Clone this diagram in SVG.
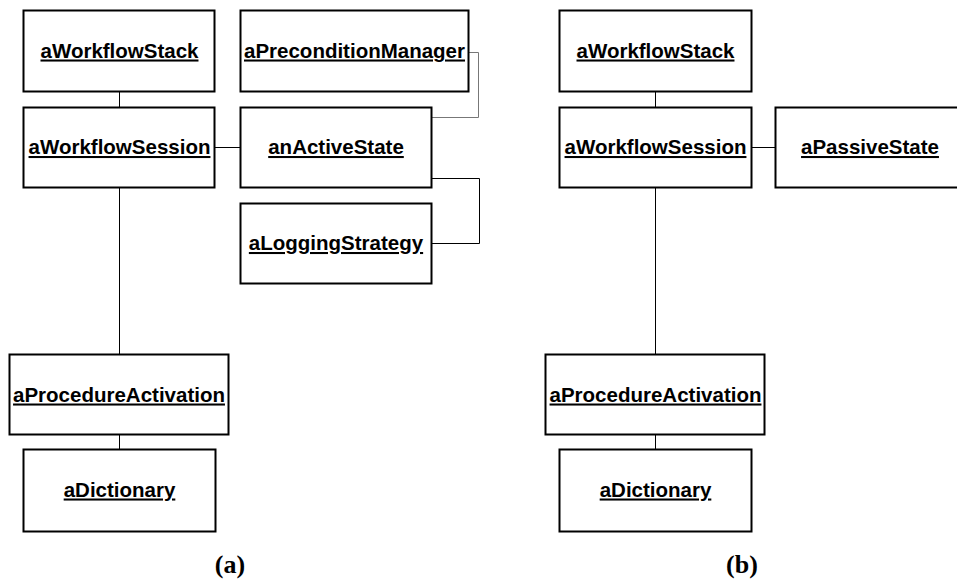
<svg xmlns="http://www.w3.org/2000/svg" width="957" height="580" viewBox="0 0 957 580">
  <style>
    .box { fill: #fff; stroke: #000; stroke-width: 2; }
    .lbl { font-family: "Liberation Sans", Arial, sans-serif; font-weight: bold; font-size: 20.5px; text-anchor: middle; text-decoration: underline; fill: #000; }
    .cap { font-family: "Liberation Serif", "Times New Roman", serif; font-weight: bold; font-size: 26px; text-anchor: middle; fill: #000; }
    .link { fill: none; stroke: #000; stroke-width: 1; }
    .link.grey { stroke: #777; }
  </style>
  <rect width="957" height="580" fill="#fff"/>

  <!-- connectors -->
  <g id="connectors">
    <!-- (a) -->
    <line class="link" x1="119.5" y1="92" x2="119.5" y2="107"/>
    <line class="link" x1="215" y1="147.5" x2="240" y2="147.5"/>
    <polyline class="link grey" points="469,52.5 478.5,52.5 478.5,117.5 432,117.5"/>
    <polyline class="link" points="432,178.5 479.5,178.5 479.5,243.5 432,243.5"/>
    <line class="link" x1="119.5" y1="188" x2="119.5" y2="354"/>
    <line class="link" x1="119.5" y1="435" x2="119.5" y2="449"/>
    <!-- (b) -->
    <line class="link" x1="655.5" y1="92" x2="655.5" y2="107"/>
    <line class="link" x1="752" y1="147.5" x2="775" y2="147.5"/>
    <line class="link" x1="655.5" y1="188" x2="655.5" y2="354"/>
    <line class="link" x1="655.5" y1="435" x2="655.5" y2="449"/>
  </g>

  <!-- (a) objects -->
  <g id="a-workflow-stack">
    <rect class="box" x="23.5" y="10.5" width="191" height="81"/>
    <text class="lbl" x="119.5" y="57.5">aWorkflowStack</text>
  </g>
  <g id="a-precondition-manager">
    <rect class="box" x="240.5" y="10.5" width="228" height="81"/>
    <text class="lbl" x="354.5" y="57.5">aPreconditionManager</text>
  </g>
  <g id="a-workflow-session">
    <rect class="box" x="23.5" y="107.5" width="191" height="80"/>
    <text class="lbl" x="119.5" y="154">aWorkflowSession</text>
  </g>
  <g id="an-active-state">
    <rect class="box" x="240.5" y="107.5" width="191" height="80"/>
    <text class="lbl" x="336" y="154">anActiveState</text>
  </g>
  <g id="a-logging-strategy">
    <rect class="box" x="240.5" y="203.5" width="191" height="80"/>
    <text class="lbl" x="336" y="250">aLoggingStrategy</text>
  </g>
  <g id="a-procedure-activation">
    <rect class="box" x="9.5" y="354.5" width="219" height="80"/>
    <text class="lbl" x="119" y="401.5">aProcedureActivation</text>
  </g>
  <g id="a-dictionary">
    <rect class="box" x="23.5" y="449.5" width="192" height="82"/>
    <text class="lbl" x="119.5" y="496.5">aDictionary</text>
  </g>
  <text class="cap" x="230" y="573">(a)</text>

  <!-- (b) objects -->
  <g id="b-workflow-stack">
    <rect class="box" x="559.5" y="10.5" width="192" height="81"/>
    <text class="lbl" x="655.5" y="57.5">aWorkflowStack</text>
  </g>
  <g id="b-workflow-session">
    <rect class="box" x="559.5" y="107.5" width="192" height="80"/>
    <text class="lbl" x="655.5" y="154">aWorkflowSession</text>
  </g>
  <g id="b-passive-state">
    <rect class="box" x="775.5" y="107.5" width="190" height="80"/>
    <text class="lbl" x="870" y="154">aPassiveState</text>
  </g>
  <g id="b-procedure-activation">
    <rect class="box" x="545.5" y="354.5" width="219" height="80"/>
    <text class="lbl" x="655.5" y="401.5">aProcedureActivation</text>
  </g>
  <g id="b-dictionary">
    <rect class="box" x="559.5" y="449.5" width="192" height="82"/>
    <text class="lbl" x="655.5" y="496.5">aDictionary</text>
  </g>
  <text class="cap" x="742" y="573">(b)</text>
</svg>
